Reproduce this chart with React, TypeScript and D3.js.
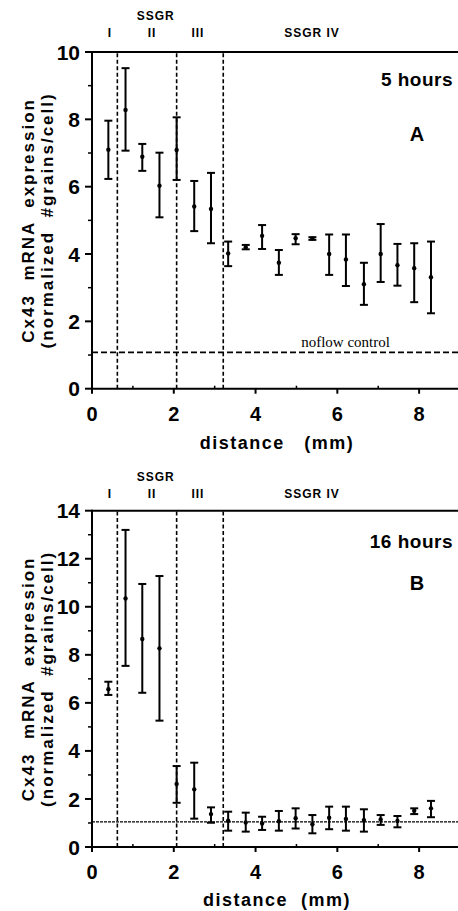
import React from 'react';
import * as d3 from 'd3';

// distance (mm) of each sampled segment
const distance = [0.40, 0.82, 1.23, 1.65, 2.07, 2.50, 2.91, 3.33, 3.76, 4.16, 4.57, 4.98, 5.39, 5.80, 6.21, 6.65, 7.06, 7.47, 7.88, 8.29];

// panel A, 5 hours
const meanA = [7.10, 8.28, 6.89, 6.03, 7.09, 5.41, 5.34, 4.02, 4.20, 4.54, 3.74, 4.47, 4.46, 4.00, 3.84, 3.10, 4.00, 3.67, 3.58, 3.31];
const upperA = [7.96, 9.52, 7.27, 7.01, 8.06, 6.17, 6.41, 4.37, 4.27, 4.86, 4.12, 4.59, 4.50, 4.58, 4.58, 3.74, 4.89, 4.30, 4.32, 4.37];
const lowerA = [6.23, 7.07, 6.47, 5.09, 6.20, 4.68, 4.32, 3.64, 4.14, 4.15, 3.38, 4.29, 4.42, 3.38, 3.05, 2.49, 3.17, 3.06, 2.57, 2.24];

// panel B, 16 hours
const meanB = [6.57, 10.35, 8.66, 8.27, 2.62, 2.40, 1.37, 1.09, 1.02, 0.98, 1.07, 1.20, 0.95, 1.22, 1.17, 1.12, 1.15, 1.08, 1.51, 1.61];
const upperB = [6.88, 13.20, 10.95, 11.28, 3.37, 3.51, 1.65, 1.47, 1.43, 1.26, 1.50, 1.61, 1.33, 1.68, 1.68, 1.57, 1.33, 1.29, 1.61, 1.92];
const lowerB = [6.33, 7.54, 6.42, 5.26, 1.84, 1.18, 1.01, 0.68, 0.64, 0.71, 0.68, 0.77, 0.57, 0.74, 0.68, 0.64, 0.92, 0.82, 1.37, 1.24];

const regionBounds = [0.62, 2.07, 3.21];
const regionLabels = ['I', 'II', 'III', 'SSGR IV'];
const regionLabelX = [0.44, 1.47, 2.59, 5.38];
const xTicks = [0, 2, 4, 6, 8];

const W = 458;
const H = 911;
const sans = '"Liberation Sans", Arial, sans-serif';

const x = d3.scaleLinear().domain([0, 9]).range([92, 460]);

type PanelProps = {
  mean: number[];
  upper: number[];
  lower: number[];
  yMax: number;
  y0: number;
  yTop: number;
  control: number;
  controlDash: string;
  controlWidth: number;
  showControlLabel: boolean;
  hours: string;
  letter: string;
  hoursY: number;
  letterY: number;
  ssgrY: number;
  titleY: number;
  tickLabelY: number;
  title: string;
};

const Panel = (p: PanelProps) => {
  const y = d3.scaleLinear().domain([0, p.yMax]).range([p.y0, p.yTop]);
  const major = d3.range(0, p.yMax + 1, 2);
  const minor = d3.range(1, p.yMax, 2);
  const xMinor = [1, 3, 5, 7];
  const midY = (p.y0 + p.yTop) / 2;
  return (
    <g>
      {/* region labels */}
      <text x={x(1.56)} y={p.ssgrY} textAnchor="middle" fontFamily={sans} fontWeight="bold" fontSize={12} letterSpacing={1}>SSGR</text>
      {regionLabels.map((r, i) => (
        <text key={r} x={x(regionLabelX[i])} y={p.ssgrY + 17} textAnchor="middle" fontFamily={sans} fontWeight="bold" fontSize={12} letterSpacing={1}>{r}</text>
      ))}

      {/* frame */}
      <line x1={x(0)} x2={x(9)} y1={y(p.yMax)} y2={y(p.yMax)} stroke="#000" strokeWidth={2} />
      <line x1={x(0)} x2={x(9)} y1={y(0)} y2={y(0)} stroke="#000" strokeWidth={2} />
      <line x1={x(0)} x2={x(0)} y1={y(0) + 1} y2={y(p.yMax) - 1} stroke="#000" strokeWidth={2} />

      {/* y ticks */}
      {major.map(v => (
        <g key={'M' + v}>
          <line x1={x(0) - 7} x2={x(0)} y1={y(v)} y2={y(v)} stroke="#000" strokeWidth={2} />
          <text x={80} y={y(v)} dy="0.36em" textAnchor="end" fontFamily={sans} fontWeight="bold" fontSize={21}>{v}</text>
        </g>
      ))}
      {minor.map(v => (
        <line key={'m' + v} x1={x(0) - 4} x2={x(0)} y1={y(v)} y2={y(v)} stroke="#000" strokeWidth={1.5} />
      ))}

      {/* x ticks */}
      {xTicks.map(v => (
        <g key={'x' + v}>
          <line x1={x(v)} x2={x(v)} y1={y(0)} y2={y(0) + 5} stroke="#000" strokeWidth={2} />
          <text x={x(v)} y={p.tickLabelY} textAnchor="middle" fontFamily={sans} fontWeight="bold" fontSize={20}>{v}</text>
        </g>
      ))}
      {xMinor.map(v => (
        <line key={'xm' + v} x1={x(v)} x2={x(v)} y1={y(0)} y2={y(0) - 3} stroke="#000" strokeWidth={1.5} />
      ))}

      {/* region boundaries */}
      {regionBounds.map(b => (
        <line key={'b' + b} x1={x(b)} x2={x(b)} y1={y(0)} y2={y(p.yMax)} stroke="#000" strokeWidth={1.6} strokeDasharray="4,2.5" />
      ))}

      {/* control level */}
      <line x1={x(0)} x2={x(9)} y1={y(p.control)} y2={y(p.control)} stroke="#000" strokeWidth={p.controlWidth} strokeDasharray={p.controlDash} />
      {p.showControlLabel && (
        <text x={x(6.2)} y={y(p.control) - 5} textAnchor="middle" fontFamily='"Liberation Serif", "Times New Roman", serif' fontSize={15}>noflow control</text>
      )}

      {/* error bars */}
      {distance.map((d, i) => (
        <g key={'e' + i} stroke="#000" strokeWidth={2}>
          <line x1={x(d)} x2={x(d)} y1={y(p.lower[i])} y2={y(p.upper[i])} />
          <line x1={x(d) - 4} x2={x(d) + 4} y1={y(p.upper[i])} y2={y(p.upper[i])} />
          <line x1={x(d) - 4} x2={x(d) + 4} y1={y(p.lower[i])} y2={y(p.lower[i])} />
          <circle cx={x(d)} cy={y(p.mean[i])} r={2.2} fill="#000" stroke="none" />
        </g>
      ))}

      {/* annotations */}
      <text x={453} y={p.hoursY} textAnchor="end" fontFamily={sans} fontWeight="bold" fontSize={19} letterSpacing={0.5}>{p.hours}</text>
      <text x={417} y={p.letterY} textAnchor="middle" fontFamily={sans} fontWeight="bold" fontSize={20}>{p.letter}</text>

      {/* axis titles */}
      <text x={277} y={p.titleY} textAnchor="middle" fontFamily={sans} fontWeight="bold" fontSize={18} letterSpacing={1.5} style={{ whiteSpace: 'pre' }}>{p.title}</text>
      <g transform={`translate(28, ${midY}) rotate(-90)`}>
        <text x={0} y={6} textAnchor="middle" fontFamily={sans} fontWeight="bold" fontSize={17} letterSpacing={2} style={{ whiteSpace: 'pre' }}>Cx43  mRNA  expression</text>
        <text x={0} y={25} textAnchor="middle" fontFamily={sans} fontWeight="bold" fontSize={17} letterSpacing={2} style={{ whiteSpace: 'pre' }}>(normalized  #grains/cell)</text>
      </g>
    </g>
  );
};

export default function App() {
  return (
    <svg width={W} height={H} style={{ position: 'absolute', left: 0, top: 0, background: '#fff' }}>
      <rect width={W} height={H} fill="#fff" />
      <Panel
        mean={meanA} upper={upperA} lower={lowerA}
        yMax={10} y0={388.7} yTop={52}
        control={1.08} controlDash="6,3" controlWidth={1.6} showControlLabel
        hours="5  hours" letter="A" hoursY={86} letterY={141}
        ssgrY={20} titleY={449} tickLabelY={421} title="distance   (mm)"
      />
      <Panel
        mean={meanB} upper={upperB} lower={lowerB}
        yMax={14} y0={847} yTop={510.7}
        control={1.05} controlDash="3,1" controlWidth={1.2} showControlLabel={false}
        hours="16  hours" letter="B" hoursY={548} letterY={590}
        ssgrY={481} titleY={906} tickLabelY={879} title="distance  (mm)"
      />
    </svg>
  );
}
